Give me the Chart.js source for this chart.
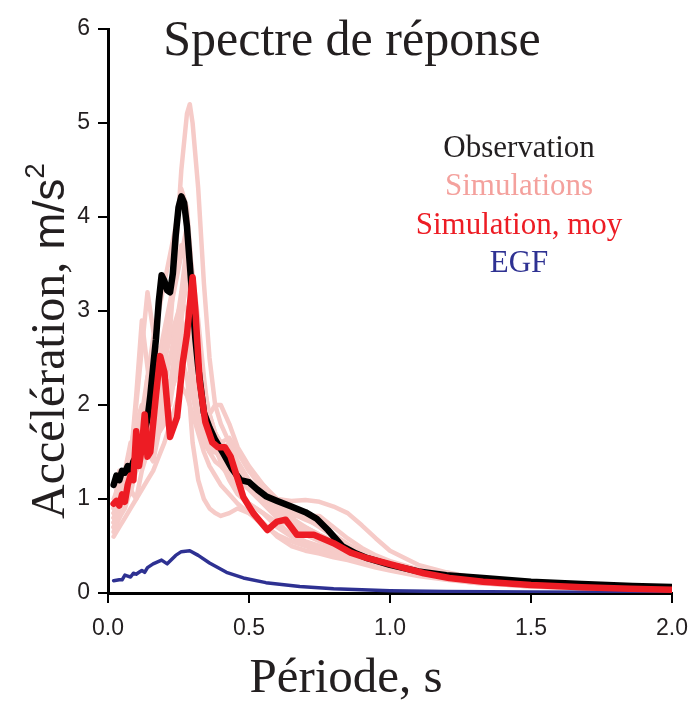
<!DOCTYPE html>
<html>
<head>
<meta charset="utf-8">
<script src="https://cdn.jsdelivr.net/npm/chart.js@4/dist/chart.umd.min.js"></script>
<style>
html,body{margin:0;padding:0;background:#fff;}
#wrap{width:690px;height:702px;}
</style>
</head>
<body>
<div id="wrap"><canvas id="c" width="690" height="702"></canvas></div>
<script>
// ---- Data ----
const xTicks = [0.0, 0.5, 1.0, 1.5, 2.0];
const yTicks = [0, 1, 2, 3, 4, 5, 6];

const obsPeriod = [0.02,0.03,0.04,0.05,0.06,0.07,0.08,0.09,0.10,0.12,0.14,0.15,0.16,0.17,0.18,0.19,0.20,0.21,0.22,0.23,0.24,0.25,0.26,0.27,0.28,0.29,0.30,0.31,0.32,0.34,0.36,0.38,0.41,0.44,0.47,0.50,0.53,0.56,0.60,0.65,0.70,0.74,0.78,0.83,0.88,0.92,1.00,1.10,1.20,1.33,1.50,1.68,1.86,2.00];
const obsAcc    = [1.15,1.25,1.20,1.30,1.28,1.35,1.30,1.40,1.45,1.60,1.85,2.10,2.40,2.70,3.10,3.38,3.32,3.22,3.20,3.40,3.80,4.10,4.22,4.15,3.90,3.50,3.10,2.70,2.40,1.92,1.76,1.63,1.48,1.32,1.20,1.18,1.10,1.03,0.98,0.92,0.86,0.79,0.67,0.50,0.42,0.37,0.30,0.23,0.19,0.16,0.12,0.095,0.075,0.065];

const meanPeriod = [0.02,0.03,0.04,0.05,0.06,0.07,0.08,0.09,0.10,0.11,0.12,0.13,0.14,0.15,0.17,0.185,0.20,0.22,0.245,0.265,0.28,0.30,0.31,0.325,0.345,0.37,0.39,0.415,0.435,0.48,0.515,0.565,0.60,0.63,0.67,0.73,0.80,0.86,0.92,1.01,1.12,1.21,1.33,1.50,1.68,1.85,2.00];
const meanAcc    = [0.95,0.98,0.93,1.05,0.97,1.15,1.25,1.20,1.72,1.35,1.55,1.90,1.45,1.50,2.10,2.52,2.35,1.66,1.87,2.45,2.75,3.36,3.00,2.25,1.82,1.60,1.55,1.55,1.45,1.02,0.85,0.67,0.76,0.78,0.62,0.62,0.53,0.43,0.37,0.30,0.21,0.16,0.12,0.085,0.06,0.045,0.035];

const egfPeriod = [0.02,0.04,0.05,0.06,0.07,0.08,0.09,0.10,0.11,0.12,0.13,0.14,0.16,0.19,0.21,0.24,0.26,0.29,0.32,0.36,0.42,0.48,0.56,0.68,0.80,1.00,1.20,1.50,2.00];
const egfAcc    = [0.13,0.14,0.14,0.19,0.18,0.17,0.21,0.20,0.22,0.24,0.22,0.27,0.31,0.35,0.31,0.40,0.44,0.45,0.40,0.32,0.22,0.16,0.11,0.07,0.045,0.025,0.015,0.010,0.005];

const simPeriod = [0.02,0.04,0.06,0.08,0.10,0.12,0.14,0.16,0.18,0.20,0.22,0.24,0.26,0.28,0.29,0.30,0.32,0.34,0.36,0.38,0.40,0.43,0.46,0.50,0.55,0.60,0.65,0.70,0.75,0.80,0.85,0.90,0.95,1.00,1.10,1.20,1.30,1.40,1.50,1.60,1.70,1.80,1.90,2.00];
const simRun1  = [0.85,0.95,1.00,1.20,1.30,1.50,1.60,1.90,2.10,2.40,2.80,3.60,4.50,5.10,5.20,5.00,4.30,3.30,2.50,2.00,1.80,1.60,1.40,1.20,1.00,0.85,0.75,0.70,0.62,0.55,0.48,0.42,0.36,0.30,0.24,0.18,0.14,0.11,0.09,0.07,0.06,0.05,0.045,0.04];
const simRun2  = [0.90,1.00,1.10,1.30,1.60,1.90,2.30,2.70,3.00,3.30,3.60,3.90,4.30,4.10,3.70,3.20,2.60,2.10,1.90,1.70,1.60,1.50,1.35,1.20,1.05,0.90,0.80,0.70,0.62,0.55,0.47,0.40,0.34,0.29,0.22,0.17,0.13,0.10,0.08,0.065,0.055,0.045,0.04,0.035];
const simRun3  = [0.75,0.90,1.10,1.40,2.00,2.60,3.20,2.80,2.40,2.60,3.00,3.30,3.60,3.90,3.70,3.30,2.70,2.20,1.90,1.70,1.55,1.40,1.30,1.15,1.00,0.85,0.75,0.65,0.58,0.50,0.42,0.36,0.30,0.26,0.20,0.15,0.12,0.10,0.08,0.065,0.055,0.045,0.04,0.035];
const simRun4  = [0.70,0.85,1.00,1.40,2.10,2.90,2.40,1.90,1.70,1.90,2.20,2.60,3.00,3.40,3.30,3.00,2.50,2.10,1.90,2.00,2.00,1.80,1.55,1.35,1.15,1.00,0.90,0.80,0.70,0.60,0.50,0.42,0.35,0.30,0.22,0.17,0.13,0.10,0.085,0.07,0.06,0.05,0.045,0.04];
const simRun5  = [0.95,1.10,1.20,1.30,1.50,1.70,1.90,2.10,2.30,2.50,2.70,2.90,3.10,3.00,2.80,2.50,2.10,1.80,1.60,1.50,1.45,1.35,1.25,1.15,1.05,1.00,0.98,0.99,0.97,0.92,0.85,0.72,0.58,0.45,0.30,0.22,0.16,0.12,0.10,0.08,0.065,0.055,0.045,0.04];
const simRun6  = [0.65,0.80,0.90,1.10,1.30,1.50,1.70,1.60,1.80,2.00,2.20,2.50,2.80,2.60,2.40,2.10,1.80,1.60,1.50,1.50,1.45,1.40,1.30,1.15,1.00,0.90,0.82,0.82,0.82,0.70,0.58,0.48,0.40,0.34,0.25,0.19,0.14,0.11,0.09,0.075,0.06,0.05,0.045,0.04];
const simRun7  = [0.60,0.70,0.80,0.90,1.00,1.10,1.20,1.30,1.45,1.60,1.80,2.00,2.20,2.10,2.00,1.90,1.70,1.50,1.35,1.25,1.15,1.05,0.95,0.85,0.72,0.62,0.55,0.50,0.45,0.40,0.36,0.32,0.28,0.25,0.19,0.15,0.11,0.09,0.07,0.06,0.05,0.045,0.04,0.035];
const simRun8  = [0.85,1.00,1.25,1.50,1.80,2.00,1.60,1.50,1.90,2.20,2.00,2.40,2.90,3.40,3.50,3.20,2.50,1.80,1.50,1.40,1.35,1.25,1.10,0.95,0.85,0.75,0.62,0.55,0.50,0.46,0.42,0.37,0.32,0.28,0.21,0.16,0.12,0.10,0.08,0.065,0.055,0.045,0.04,0.035];
const simRun9  = [1.00,1.15,1.30,1.60,1.40,1.90,2.20,2.00,1.70,1.80,2.10,2.30,2.60,2.90,2.80,2.60,2.20,2.00,1.75,1.55,1.40,1.20,1.05,0.95,0.85,0.70,0.60,0.52,0.48,0.44,0.40,0.35,0.30,0.26,0.20,0.15,0.11,0.09,0.07,0.06,0.05,0.045,0.04,0.035];
const simRun10 = [0.80,0.95,1.05,1.20,1.50,1.80,2.00,2.30,2.60,2.30,2.20,2.60,3.00,3.30,3.20,2.90,2.40,2.00,1.80,1.70,1.60,1.50,1.35,1.20,1.00,0.82,0.70,0.62,0.55,0.50,0.44,0.38,0.33,0.28,0.21,0.16,0.12,0.10,0.08,0.065,0.055,0.045,0.04,0.035];
const simRun11 = [0.70,0.80,0.95,1.10,1.00,1.30,1.50,1.40,1.70,1.90,2.10,2.30,2.50,2.30,2.00,1.60,1.20,1.00,0.90,0.85,0.82,0.85,0.90,0.85,0.75,0.60,0.50,0.45,0.42,0.38,0.35,0.31,0.27,0.24,0.18,0.14,0.11,0.09,0.07,0.06,0.05,0.045,0.04,0.035];
const simRun12 = [0.90,1.30,1.10,1.50,1.90,1.60,2.30,2.00,2.60,2.20,2.50,2.80,3.20,3.70,3.60,3.40,2.90,2.30,1.80,1.60,1.50,1.60,1.50,1.30,1.10,0.95,0.85,0.78,0.72,0.62,0.52,0.44,0.37,0.31,0.23,0.17,0.13,0.10,0.085,0.07,0.06,0.05,0.045,0.04];
const simRun13 = [0.80,0.90,1.15,1.05,1.35,1.60,1.80,2.10,2.00,2.30,2.50,2.70,2.90,2.70,2.50,2.30,2.00,1.70,1.60,1.55,1.60,1.65,1.50,1.30,1.15,0.95,0.80,0.68,0.60,0.52,0.45,0.39,0.33,0.28,0.21,0.16,0.12,0.10,0.08,0.065,0.055,0.045,0.04,0.035];
const simRun14 = [0.75,0.85,1.00,1.20,1.60,1.40,1.80,2.20,2.50,2.80,3.10,3.40,3.70,3.50,3.20,2.80,2.30,1.90,1.70,1.55,1.40,1.30,1.20,1.10,0.95,0.80,0.70,0.62,0.56,0.50,0.44,0.38,0.32,0.27,0.20,0.15,0.12,0.10,0.08,0.065,0.055,0.045,0.04,0.035];
const simRuns = [simRun1, simRun2, simRun3, simRun4, simRun5, simRun6, simRun7, simRun8, simRun9, simRun10, simRun11, simRun12, simRun13, simRun14];

// ---- Styles ----
const PINK = '#f6cbc8';
const RED = '#ed1c24';
const BLUE = '#2e3192';
const pts = (xs, ys) => xs.map((x, i) => ({x: x, y: ys[i]}));

const datasets = [];
simRuns.forEach((run, i) => {
  datasets.push({label: 'Simulations ' + (i+1), data: pts(simPeriod, run), borderColor: PINK, borderWidth: 4.5, order: 10});
});
datasets.push({label: 'EGF', data: pts(egfPeriod, egfAcc), borderColor: BLUE, borderWidth: 3.5, order: 3});
datasets.push({label: 'Observation', data: pts(obsPeriod, obsAcc), borderColor: '#000', borderWidth: 6.5, order: 2});
datasets.push({label: 'Simulation, moy', data: pts(meanPeriod, meanAcc), borderColor: RED, borderWidth: 6.5, order: 1});
datasets.forEach(d => { d.showLine = true; d.pointRadius = 0; d.tension = 0; d.fill = false; d.borderJoinStyle = 'round'; d.borderCapStyle = 'round'; });

const textPlugin = {
  id: 'texts',
  afterDraw(chart) {
    const ctx = chart.ctx;
    ctx.save();
    ctx.fillStyle = '#231f20';
    ctx.textBaseline = 'alphabetic';
    // title
    ctx.font = '50px "Liberation Serif"';
    ctx.textAlign = 'center';
    ctx.fillText('Spectre de réponse', 352, 55);
    // legend
    ctx.font = '31px "Liberation Serif"';
    const leg = [['Observation', '#231f20', 157], ['Simulations', '#f4a19d', 195], ['Simulation, moy', RED, 234], ['EGF', BLUE, 272]];
    leg.forEach(l => { ctx.fillStyle = l[1]; ctx.fillText(l[0], 519, l[2]); });
    // x title
    ctx.fillStyle = '#231f20';
    ctx.font = '49px "Liberation Serif"';
    ctx.fillText('Période, s', 346, 692);
    // y title
    ctx.translate(64, 341);
    ctx.rotate(-Math.PI / 2);
    ctx.textAlign = 'left';
    const p1 = 'Accélération,';
    const p2 = ' m/s';
    const p3 = '2';
    ctx.font = '48px "Liberation Serif"';
    const w1 = ctx.measureText(p1).width;
    ctx.font = '44px "Liberation Sans"';
    const w2 = ctx.measureText(p2).width;
    ctx.font = '28px "Liberation Sans"';
    const w3 = ctx.measureText(p3).width;
    let x0 = -(w1 + w2 + w3) / 2;
    ctx.font = '48px "Liberation Serif"';
    ctx.fillText(p1, x0, 0);
    ctx.font = '44px "Liberation Sans"';
    ctx.fillText(p2, x0 + w1, 0);
    ctx.font = '28px "Liberation Sans"';
    ctx.fillText(p3, x0 + w1 + w2, -20);
    ctx.restore();
  }
};

new Chart(document.getElementById('c'), {
  type: 'scatter',
  data: {datasets: datasets},
  options: {
    responsive: false,
    animation: false,
    devicePixelRatio: 1,
    layout: {padding: {top: 29, right: 18, left: 0, bottom: 0}},
    plugins: {legend: {display: false}, tooltip: {enabled: false}, title: {display: false}},
    scales: {
      x: {
        type: 'linear', min: 0, max: 2,
        afterBuildTicks: (s) => { s.ticks = xTicks.map(v => ({value: v})); },
        afterFit: (s) => { s.height = 109; s.paddingLeft = 0; s.paddingRight = 0; },
        ticks: {color: '#231f20', font: {family: 'Liberation Sans', size: 23}, padding: 12, maxRotation: 0,
                callback: (v) => Number(v).toFixed(1)},
        grid: {drawOnChartArea: false, drawTicks: true, tickLength: 10, color: '#000', lineWidth: 2},
        border: {color: '#000', width: 3}
      },
      y: {
        type: 'linear', min: 0, max: 6,
        afterBuildTicks: (s) => { s.ticks = yTicks.map(v => ({value: v})); },
        afterFit: (s) => { s.width = 108; s.paddingTop = 0; s.paddingBottom = 0; },
        ticks: {color: '#231f20', font: {family: 'Liberation Sans', size: 23}, padding: 8},
        grid: {drawOnChartArea: false, drawTicks: true, tickLength: 10, color: '#000', lineWidth: 2},
        border: {color: '#000', width: 3}
      }
    }
  },
  plugins: [textPlugin]
});
</script>
</body>
</html>
